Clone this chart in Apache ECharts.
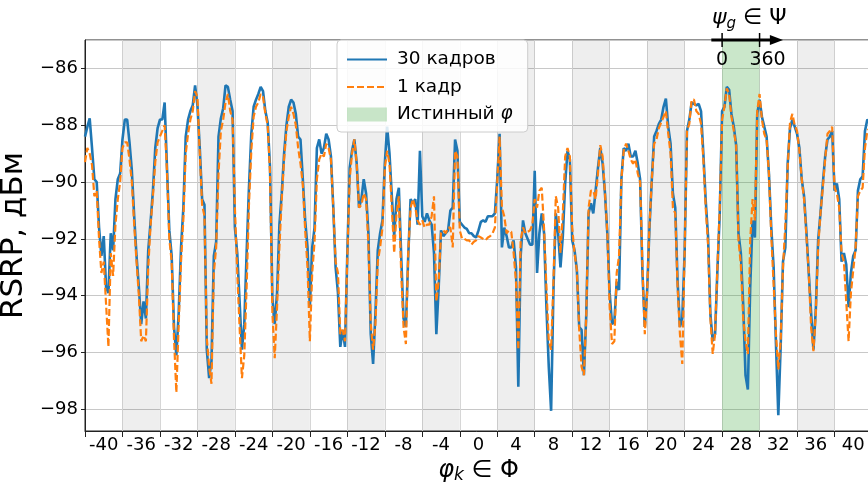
<!DOCTYPE html>
<html>
<head>
<meta charset="utf-8">
<script src="https://cdn.jsdelivr.net/npm/echarts@6/dist/echarts.min.js"></script>
<style>
html,body{margin:0;padding:0;background:#fff;}
#chart{width:868px;height:485px;}
</style>
</head>
<body>
<div id="chart"></div>
<script>
// ---- data ----
const sectorLabels = ['-40','-36','-32','-28','-24','-20','-16','-12','-8','-4','0','4','8','12','16','20','24','28','32','36','40'];
const grayBandCenters = [-36,-28,-20,-12,-4,4,12,20,36];
const trueSector = 28;
const X_START = -42, X_STEP = 0.25;   // phi grid, 16 samples per 4-unit sector
const blue30 = [
-88.4,-88.06,-87.76,-88.8,-89.9,-90.0,-91.6,-92.6,-91.9,-93.7,-93.9,-91.8,-92.4,-90.6,-89.9,-89.7,
-88.5,-87.8,-87.8,-88.6,-89.6,-91.2,-92.6,-93.7,-95.0,-94.2,-94.8,-92.4,-91.4,-90.3,-88.8,-88.1,
-87.8,-87.8,-87.2,-89.5,-91.7,-92.6,-95.1,-96.1,-94.6,-92.3,-90.9,-88.4,-87.8,-87.5,-87.3,-86.6,
-87.3,-88.8,-90.6,-90.8,-95.9,-96.9,-96.3,-92.6,-92.1,-88.4,-87.76,-87.4,-86.6,-86.65,-87.1,-87.5,
-91.6,-92.5,-94.2,-95.9,-95.0,-92.5,-90.2,-88.3,-87.35,-87.1,-86.9,-86.65,-86.8,-87.5,-87.9,-89.5,
-94.1,-95.0,-93.9,-91.5,-90.4,-89.0,-88.0,-87.35,-87.1,-87.2,-87.6,-88.4,-88.5,-89.9,-91.35,-92.3,
-94.4,-92.3,-91.6,-88.8,-88.5,-89.0,-88.8,-88.3,-88.5,-89.1,-90.9,-93.0,-93.9,-95.8,-95.2,-95.8,
-92.5,-89.5,-88.9,-88.5,-89.35,-90.9,-90.6,-89.9,-90.4,-91.8,-95.35,-96.4,-94.6,-92.4,-91.8,-91.35,
-89.35,-88.05,-89.0,-90.5,-91.9,-90.6,-90.2,-92.6,-94.8,-95.1,-92.6,-90.6,-90.75,-90.6,-91.5,-88.9,
-91.2,-91.4,-91.1,-91.35,-91.5,-92.5,-95.35,-93.7,-91.7,-91.9,-91.8,-91.7,-91.0,-90.9,-88.5,-88.9,
-91.4,-91.5,-91.6,-91.65,-91.8,-91.8,-91.9,-91.95,-91.7,-91.4,-91.35,-91.4,-91.2,-91.2,-91.2,-91.1,
-89.9,-88.3,-92.3,-91.6,-91.9,-92.3,-92.3,-92.05,-93.0,-97.2,-92.6,-91.35,-91.8,-92.0,-92.2,-92.2,
-89.6,-93.2,-91.8,-91.1,-91.8,-94.4,-96.5,-98.05,-93.8,-91.1,-91.8,-93.0,-91.9,-90.05,-88.9,-89.2,
-92.05,-92.4,-93.1,-95.1,-95.2,-96.8,-94.7,-91.1,-90.75,-91.1,-90.3,-89.5,-88.8,-89.35,-90.4,-91.8,
-93.9,-95.0,-94.9,-93.5,-93.8,-89.9,-88.8,-88.9,-88.65,-89.1,-89.1,-88.9,-89.35,-89.9,-93.2,-95.1,
-93.8,-91.6,-89.9,-88.4,-88.2,-87.95,-87.8,-87.35,-87.06,-88.05,-88.65,-90.4,-90.9,-93.5,-95.1,-94.8,
-92.5,-88.2,-87.8,-87.2,-87.25,-87.3,-87.25,-87.5,-89.0,-90.65,-91.9,-94.65,-95.6,-95.35,-93.1,-91.1,
-87.5,-87.35,-86.65,-86.75,-87.6,-88.05,-88.7,-91.8,-92.5,-94.3,-96.8,-97.3,-93.7,-91.35,-91.95,-87.6,
-87.1,-87.7,-88.05,-88.4,-89.7,-91.6,-93.0,-95.7,-98.2,-95.8,-92.8,-92.3,-89.35,-88.1,-87.8,-88.05,
-88.3,-88.8,-89.9,-90.5,-91.75,-93.2,-94.6,-95.9,-94.5,-92.05,-91.1,-90.05,-89.1,-88.5,-88.4,-88.2,
-90.3,-90.05,-90.6,-92.8,-92.5,-92.9,-94.4,-93.2,-92.6,-92.4,-90.3,-89.9,-89.8,-88.2,-87.8,-87.9
];
const orange1 = [
-89.3,-88.8,-89.0,-89.4,-90.5,-90.3,-92.0,-93.2,-92.8,-94.3,-95.8,-92.5,-93.3,-91.5,-90.6,-90.0,
-88.8,-88.6,-88.6,-89.2,-90.0,-91.5,-92.8,-94.0,-95.6,-95.4,-95.6,-93.0,-91.5,-90.5,-89.3,-88.6,
-88.4,-88.2,-88.0,-89.6,-92.0,-92.8,-95.5,-97.4,-95.0,-92.8,-91.3,-89.0,-88.3,-87.8,-87.5,-86.8,
-87.0,-89.0,-90.8,-91.2,-95.5,-96.5,-97.1,-93.2,-92.3,-89.7,-88.2,-87.8,-87.2,-86.9,-87.5,-87.8,
-90.9,-93.2,-95.1,-96.9,-96.1,-93.7,-90.8,-88.9,-87.7,-87.35,-87.2,-86.9,-87.0,-87.6,-88.0,-89.7,
-94.6,-96.2,-94.4,-92.3,-90.6,-89.2,-88.2,-87.7,-87.35,-87.6,-88.0,-88.8,-89.35,-90.1,-91.7,-93.0,
-95.6,-93.2,-92.1,-89.9,-89.2,-89.0,-89.1,-88.65,-88.8,-89.2,-90.9,-92.8,-93.2,-95.35,-95.2,-95.6,
-92.6,-89.9,-89.0,-88.5,-89.35,-90.9,-90.8,-90.4,-90.6,-92.2,-95.0,-95.9,-95.0,-92.8,-92.3,-91.6,
-89.5,-88.9,-89.35,-90.9,-92.5,-91.1,-90.5,-93.2,-95.1,-95.7,-92.5,-90.9,-90.6,-90.9,-91.35,-91.5,
-91.35,-91.6,-91.5,-91.5,-91.2,-90.5,-94.2,-93.5,-91.8,-91.7,-91.8,-91.6,-91.6,-92.3,-88.9,-89.1,
-91.7,-92.0,-92.0,-92.05,-92.05,-92.2,-92.1,-92.05,-91.9,-91.95,-92.0,-92.05,-91.95,-91.9,-91.8,-91.6,
-90.0,-88.4,-90.9,-91.2,-91.8,-91.7,-91.75,-92.5,-93.5,-95.9,-92.05,-91.6,-91.8,-91.75,-91.7,-91.5,
-90.6,-90.9,-90.3,-90.2,-91.65,-93.7,-95.6,-95.9,-93.5,-90.5,-90.9,-92.5,-91.1,-89.1,-88.8,-89.1,
-91.6,-92.5,-93.1,-95.2,-96.5,-96.8,-94.7,-90.9,-90.3,-90.3,-90.6,-89.7,-88.7,-89.1,-90.4,-91.8,
-94.4,-95.7,-95.6,-93.2,-92.6,-89.9,-88.9,-88.65,-88.9,-89.2,-89.35,-89.2,-89.7,-90.0,-93.0,-95.35,
-93.9,-91.5,-89.9,-88.65,-88.5,-88.1,-87.9,-87.7,-87.5,-88.3,-89.0,-90.9,-91.1,-93.7,-95.35,-96.4,
-92.5,-88.2,-87.95,-87.1,-87.1,-87.5,-87.6,-87.95,-89.2,-90.9,-92.2,-94.8,-96.05,-95.35,-93.0,-90.9,
-87.8,-87.35,-86.7,-86.9,-87.7,-88.2,-88.7,-92.05,-92.9,-94.8,-95.6,-96.05,-92.05,-90.6,-91.35,-87.5,
-86.9,-87.8,-88.3,-88.5,-89.7,-91.9,-93.6,-95.35,-96.6,-95.6,-93.0,-91.5,-89.5,-87.9,-87.6,-88.0,
-88.2,-88.9,-89.9,-90.6,-91.9,-93.2,-95.1,-95.95,-94.65,-92.3,-91.1,-90.2,-89.2,-88.3,-88.2,-88.05,
-90.2,-90.4,-90.9,-92.5,-92.8,-94.2,-95.6,-93.9,-93.1,-92.3,-90.5,-90.3,-90.2,-88.8,-88.2,-88.1
];
const yMin = -98.76, yMax = -85;

// ---- chart ----
const FONT = 'DejaVu Sans';
const xs = blue30.map((_, i) => X_START + i * X_STEP);
const chart = echarts.init(document.getElementById('chart'), null, {renderer: 'canvas'});
const grayAreas = grayBandCenters.map(c => [{xAxis: c - 2}, {xAxis: c + 2}]);
const minus = v => (v < 0 ? '\u2212' + Math.abs(v) : String(v));

const option = {
  animation: false,
  backgroundColor: '#ffffff',
  textStyle: {fontFamily: FONT},
  grid: {left: 85, right: -4, top: 40, bottom: 54, outerBoundsMode: 'none', containLabel: false,
    show: true, borderColor: '#222', borderWidth: 1, backgroundColor: 'transparent'},
  legend: {
    orient: 'vertical', left: 337, top: 40,
    padding: [10, 15, 8, 9],
    itemWidth: 40, itemHeight: 14, itemGap: 8.5,
    backgroundColor: 'rgba(255,255,255,0.85)', borderColor: '#cccccc', borderWidth: 1, borderRadius: 4,
    textStyle: {fontFamily: FONT, fontSize: 18.5, color: '#000', padding: [0, 0, 0, 5],
      rich: {n: {fontFamily: FONT, fontSize: 18.5, color: '#000'}, i: {fontFamily: FONT, fontSize: 18.5, fontStyle: 'italic', color: '#000'}}},
    formatter: name => name.indexOf('φ') >= 0 ? '{n|' + name.replace(' φ', ' ') + '}{i|φ}' : name,
    data: [
      {name: '30 кадров', itemStyle: {opacity: 0}},
      {name: '1 кадр', itemStyle: {opacity: 0}},
      {name: 'Истинный φ', icon: 'rect', itemStyle: {color: 'rgba(44,160,44,0.25)', borderWidth: 0, opacity: 1}}
    ]
  },
  xAxis: [
    {
      type: 'category', data: sectorLabels, boundaryGap: true, position: 'bottom',
      axisLine: {show: true, onZero: false, lineStyle: {color: '#222', width: 1}},
      axisTick: {show: true, alignWithLabel: false, length: 6, lineStyle: {color: '#222'}},
      axisLabel: {interval: 0, fontFamily: FONT, fontSize: 18, color: '#000', margin: 5},
      splitLine: {show: true, lineStyle: {color: '#d6d6d6', width: 1}},
      name: '{i|φ}{s|k}{n| ∈ Φ}', nameLocation: 'middle', nameGap: 24,
      nameTextStyle: {rich: {
        i: {fontFamily: FONT, fontSize: 24, fontStyle: 'italic', color: '#000'},
        s: {fontFamily: FONT, fontSize: 17, fontStyle: 'italic', color: '#000', verticalAlign: 'bottom', padding: [10, 0, 0, 0]},
        n: {fontFamily: FONT, fontSize: 24, color: '#000'}
      }}
    },
    {type: 'value', min: X_START, max: -X_START, show: false, axisLine: {onZero: false}}
  ],
  yAxis: {
    type: 'value', min: yMin, max: yMax, splitNumber: 7,
    axisLine: {show: true, onZero: false, lineStyle: {color: '#222', width: 1}},
    axisTick: {show: true, length: 4, lineStyle: {color: '#222'}},
    axisLabel: {fontFamily: FONT, fontSize: 18, color: '#000', margin: 7, formatter: minus, showMinLabel: false, showMaxLabel: false},
    splitLine: {show: true, lineStyle: {color: '#c8c8c8', width: 1}},
    name: 'RSRP, дБм', nameLocation: 'middle', nameGap: 44,
    nameTextStyle: {fontFamily: FONT, fontSize: 31, color: '#000'}
  },
  series: [
    {
      name: 'Истинный φ', type: 'line', xAxisIndex: 1, data: [], z: 1,
      color: 'rgba(44,160,44,0.25)',
      markArea: {silent: true, itemStyle: {color: 'rgba(44,160,44,0.25)'},
        data: [[{xAxis: trueSector - 2}, {xAxis: trueSector + 2}]]}
    },
    {
      name: 'bands', type: 'line', xAxisIndex: 1, data: [], z: 1,
      markArea: {silent: true, itemStyle: {color: 'rgba(0,0,0,0.065)'}, data: grayAreas}
    },
    {
      name: '30 кадров', type: 'line', xAxisIndex: 1, z: 3,
      data: xs.map((x, i) => [x, blue30[i]]),
      showSymbol: false, symbol: 'none', color: '#1f77b4',
      lineStyle: {color: '#1f77b4', width: 2.6}
    },
    {
      name: '1 кадр', type: 'line', xAxisIndex: 1, z: 4,
      data: xs.map((x, i) => [x, orange1[i]]),
      showSymbol: false, symbol: 'none', color: '#ff7f0e',
      lineStyle: {color: '#ff7f0e', width: 2.2, type: [7, 3]}
    }
  ]
};
chart.setOption(option);

// ---- psi annotation on top spine, positioned through the axes ----
const px = v => chart.convertToPixel({xAxisIndex: 1}, v);
const topY = chart.convertToPixel({yAxisIndex: 0}, yMax);
const a0 = px(trueSector - 3.15), aTip = px(trueSector + 4.5), aHead = px(trueSector + 3.1);
const t0 = px(trueSector - 2), t1 = px(trueSector + 2);
chart.setOption({
  graphic: [
    {type: 'line', z: 100, shape: {x1: a0, y1: topY, x2: aHead + 2, y2: topY}, style: {stroke: '#000', lineWidth: 3}},
    {type: 'polygon', z: 100, shape: {points: [[aHead, topY - 5], [aTip, topY], [aHead, topY + 5]]}, style: {fill: '#000'}},
    {type: 'line', z: 100, shape: {x1: t0, y1: topY - 7, x2: t0, y2: topY + 7}, style: {stroke: '#000', lineWidth: 1.5}},
    {type: 'line', z: 100, shape: {x1: t1, y1: topY - 7, x2: t1, y2: topY + 7}, style: {stroke: '#000', lineWidth: 1.5}},
    {type: 'text', z: 100, x: t0, y: topY + 20, style: {text: '0', fontFamily: FONT, fontSize: 19, fill: '#000', align: 'center', verticalAlign: 'middle'}},
    {type: 'text', z: 100, x: px(trueSector + 2.85), y: topY + 20, style: {text: '360', fontFamily: FONT, fontSize: 19, fill: '#000', align: 'center', verticalAlign: 'middle'}},
    {type: 'text', z: 100, x: px(trueSector - 3.07), y: topY - 22, style: {
      text: '{i|ψ}{s|g}{n| ∈ Ψ}', align: 'left', verticalAlign: 'middle',
      rich: {
        i: {fontFamily: FONT, fontSize: 22, fontStyle: 'italic', fill: '#000'},
        s: {fontFamily: FONT, fontSize: 15, fontStyle: 'italic', fill: '#000', padding: [12, 0, 0, 0]},
        n: {fontFamily: FONT, fontSize: 22, fill: '#000'}
      }}}
  ]
});
</script>
</body>
</html>
